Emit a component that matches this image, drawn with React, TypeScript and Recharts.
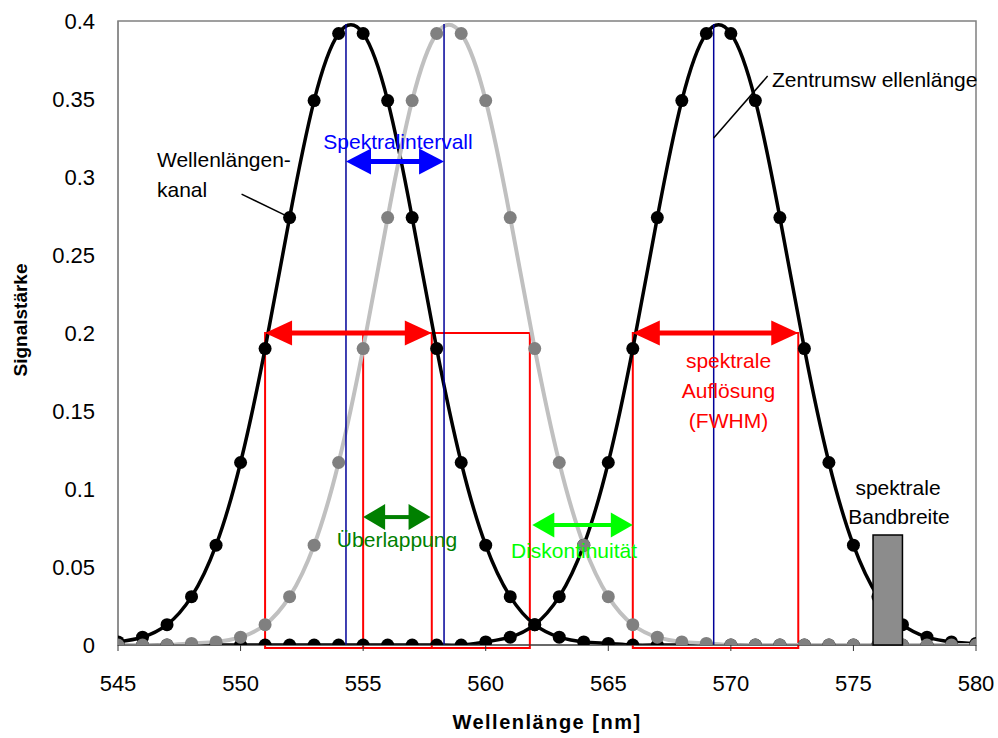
import React from 'react';
import { LineChart, Line, XAxis, YAxis, ReferenceArea, ReferenceLine } from 'recharts';

const FONT = '"Liberation Sans", Arial, sans-serif';

// wavelength grid, one point per nm
const wavelengths = [
  545, 546, 547, 548, 549, 550, 551, 552, 553, 554, 555, 556, 557, 558, 559, 560, 561, 562,
  563, 564, 565, 566, 567, 568, 569, 570, 571, 572, 573, 574, 575, 576, 577, 578, 579, 580,
];

// channel 1 (black), centre ~554.5
const kanal1 = [
  0.002, 0.005, 0.013, 0.031, 0.064, 0.117, 0.19, 0.274, 0.349, 0.392, 0.392, 0.349, 0.274, 0.19,
  0.117, 0.064, 0.031, 0.013, 0.005, 0.002, 0.001, 0, 0, 0, 0, 0, 0, 0, 0, 0, 0, 0, 0, 0, 0, 0,
];

// channel 2 (grey), centre ~558.5
const kanal2 = [
  0, 0, 0, 0.001, 0.002, 0.005, 0.013, 0.031, 0.064, 0.117, 0.19, 0.274, 0.349, 0.392, 0.392,
  0.349, 0.274, 0.19, 0.117, 0.064, 0.031, 0.013, 0.005, 0.002, 0.001, 0, 0, 0, 0, 0, 0, 0, 0, 0,
  0, 0,
];

// channel 3 (black), centre ~569.5
const kanal3 = [
  0, 0, 0, 0, 0, 0, 0, 0, 0, 0, 0, 0, 0, 0, 0, 0.002, 0.005, 0.013, 0.031, 0.064, 0.117, 0.19,
  0.274, 0.349, 0.392, 0.392, 0.349, 0.274, 0.19, 0.117, 0.064, 0.031, 0.013, 0.005, 0.002, 0.001,
];

const xTicks = [545, 550, 555, 560, 565, 570, 575, 580];
const yTicks = [0, 0.05, 0.1, 0.15, 0.2, 0.25, 0.3, 0.35, 0.4];

// annotation values (nm / signal)
const zentren = [554.3, 558.3, 569.3];
const zentrumTop = 0.398;
const fwhmKanaele = [
  [551.0, 557.8],
  [555.0, 561.8],
  [566.0, 572.75],
];
const halbeHoehe = 0.2;
const boxBoden = -0.002;
const intervallY = 0.31;
const ueberlappung = [555.0, 557.75];
const ueberlappungY = 0.082;
const diskontinuitaet = [561.9, 566.0];
const diskontinuitaetY = 0.077;
const bandbreite = [575.8, 577.0];
const bandbreiteHoehe = 0.0705;

const data = wavelengths.map((x, i) => ({ x, k1: kanal1[i], k2: kanal2[i], k3: kanal3[i] }));

const makeArrow = (color: string, head: number, half: number, width: number) => (props: any) => {
  const { x1, y1, x2 } = props;
  const xa = Math.min(x1, x2);
  const xb = Math.max(x1, x2);
  const y = y1;
  return (
    <g>
      <line x1={xa + head - 2} y1={y} x2={xb - head + 2} y2={y} stroke={color} strokeWidth={width} />
      <polygon points={`${xa},${y} ${xa + head},${y - half} ${xa + head},${y + half}`} fill={color} />
      <polygon points={`${xb},${y} ${xb - head},${y - half} ${xb - head},${y + half}`} fill={color} />
    </g>
  );
};

const redArrow = makeArrow('#ff0000', 27, 12.5, 5);
const blueArrow = makeArrow('#0000ff', 25, 13, 5);
const darkGreenArrow = makeArrow('#008000', 22, 13, 4);
const greenArrow = makeArrow('#00ff00', 22, 12.5, 4);

const txt = { fontFamily: FONT, fontSize: 21 };

export default function App() {
  return (
    <div style={{ position: 'absolute', left: 0, top: 0, width: 998, height: 738, background: '#fff' }}>
      <LineChart
        width={998}
        height={738}
        data={data}
        margin={{ top: 21, right: 22, left: 0, bottom: 0 }}
      >
        <XAxis
          dataKey="x"
          type="number"
          domain={[545, 580]}
          ticks={xTicks}
          allowDataOverflow
          height={93}
          axisLine={{ stroke: '#333', strokeWidth: 1 }}
          tickLine={{ stroke: '#333' }}
          tickSize={6}
          tickMargin={24}
          tick={{ fill: '#000', fontSize: 22, fontFamily: FONT }}
        />
        <YAxis
          type="number"
          domain={[0, 0.4]}
          ticks={yTicks}
          allowDataOverflow
          width={118}
          axisLine={{ stroke: '#808080' }}
          tickLine={false}
          tickSize={0}
          tickMargin={23}
          tick={{ fill: '#000', fontSize: 22, fontFamily: FONT }}
        />

        {/* plot frame */}
        <ReferenceArea x1={545} x2={580} y1={0} y2={0.4} fill="none" stroke="#808080" strokeWidth={1.5} ifOverflow="visible" />

        <Line type="natural" dataKey="k1" stroke="#000" strokeWidth={3.5} dot={{ r: 6.5, fill: '#000', stroke: 'none' }} activeDot={false} isAnimationActive={false} />
        <Line type="natural" dataKey="k3" stroke="#000" strokeWidth={3.5} dot={{ r: 6.5, fill: '#000', stroke: 'none' }} activeDot={false} isAnimationActive={false} />
        <Line type="natural" dataKey="k2" stroke="#c0c0c0" strokeWidth={4} dot={{ r: 6.5, fill: '#808080', stroke: 'none' }} activeDot={false} isAnimationActive={false} />

        {/* FWHM boxes */}
        {fwhmKanaele.map(([a, b], i) => (
          <ReferenceArea key={`fw${i}`} x1={a} x2={b} y1={boxBoden} y2={halbeHoehe} fill="none" stroke="#ff0000" strokeWidth={2} ifOverflow="visible" />
        ))}

        {/* centre wavelengths */}
        {zentren.map((c, i) => (
          <ReferenceLine key={`z${i}`} segment={[{ x: c, y: 0 }, { x: c, y: zentrumTop }]} stroke="#000099" strokeWidth={1.5} ifOverflow="visible" />
        ))}

        <ReferenceLine segment={[{ x: fwhmKanaele[0][0], y: halbeHoehe }, { x: fwhmKanaele[0][1], y: halbeHoehe }]} shape={redArrow} ifOverflow="visible" />
        <ReferenceLine segment={[{ x: fwhmKanaele[2][0], y: halbeHoehe }, { x: fwhmKanaele[2][1], y: halbeHoehe }]} shape={redArrow} ifOverflow="visible" />
        <ReferenceLine segment={[{ x: zentren[0], y: intervallY }, { x: zentren[1], y: intervallY }]} shape={blueArrow} ifOverflow="visible" />
        <ReferenceLine segment={[{ x: ueberlappung[0], y: ueberlappungY }, { x: ueberlappung[1], y: ueberlappungY }]} shape={darkGreenArrow} ifOverflow="visible" />
        <ReferenceLine segment={[{ x: diskontinuitaet[0], y: diskontinuitaetY }, { x: diskontinuitaet[1], y: diskontinuitaetY }]} shape={greenArrow} ifOverflow="visible" />

        {/* leader lines */}
        <ReferenceLine segment={[{ x: 550.04, y: 0.289 }, { x: 551.81, y: 0.2756 }]} stroke="#000" strokeWidth={1.5} ifOverflow="visible" />
        <ReferenceLine segment={[{ x: 569.3, y: 0.325 }, { x: 571.5, y: 0.3647 }]} stroke="#000" strokeWidth={1.5} ifOverflow="visible" />

        {/* spectral bandwidth bar */}
        <ReferenceArea x1={bandbreite[0]} x2={bandbreite[1]} y1={0} y2={bandbreiteHoehe} fill="#8c8c8c" fillOpacity={1} stroke="#000" strokeWidth={1.5} ifOverflow="visible" zIndex={600} />
      </LineChart>

      <svg width={998} height={738} style={{ position: 'absolute', left: 0, top: 0, pointerEvents: 'none' }}>
        <text x={547} y={729} textAnchor="middle" fontFamily={FONT} fontSize={20} fontWeight="bold" letterSpacing={1.5}>
          Wellenlänge [nm]
        </text>
        <text x={27} y={320} textAnchor="middle" fontFamily={FONT} fontSize={19} fontWeight="bold" transform="rotate(-90, 27, 320)">
          Signalstärke
        </text>

        <text x={398} y={149} textAnchor="middle" fill="#0000ff" {...txt}>Spektralintervall</text>
        <text x={157} y={167} fill="#000" {...txt}>Wellenlängen-</text>
        <text x={157} y={197} fill="#000" {...txt}>kanal</text>
        <text x={772} y={87} fill="#000" {...txt}>Zentrumsw ellenlänge</text>

        <text x={728.5} y={368} textAnchor="middle" fill="#ff0000" {...txt}>spektrale</text>
        <text x={728.5} y={398} textAnchor="middle" fill="#ff0000" {...txt}>Auflösung</text>
        <text x={728.5} y={428} textAnchor="middle" fill="#ff0000" {...txt}>(FWHM)</text>

        <text x={397} y={547} textAnchor="middle" fill="#008000" {...txt}>Überlappung</text>
        <text x={574} y={558} textAnchor="middle" fill="#00ff00" {...txt}>Diskontinuität</text>

        <text x={898} y={495} textAnchor="middle" fill="#000" {...txt}>spektrale</text>
        <text x={899} y={524} textAnchor="middle" fill="#000" {...txt}>Bandbreite</text>
      </svg>
    </div>
  );
}
